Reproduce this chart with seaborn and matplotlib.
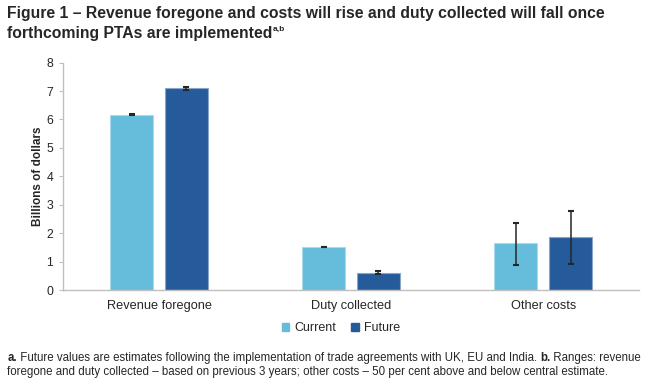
import numpy as np
import pandas as pd
import matplotlib.pyplot as plt
import seaborn as sns

# Valores (bilhões de dólares)
categorias = ['Revenue foregone', 'Duty collected', 'Other costs']
series = ['Current', 'Future']
atual = [6.16, 1.52, 1.65]
futuro = [7.09, 0.61, 1.86]
atual_min = [6.14, 1.51, 0.87]
atual_max = [6.18, 1.53, 2.37]
futuro_min = [7.04, 0.56, 0.93]
futuro_max = [7.14, 0.66, 2.78]
y_ticks = [0, 1, 2, 3, 4, 5, 6, 7, 8]

cores = ['#66bddb', '#265b9b']
bordas = ['#a6dcef', '#8aa6cc']

df = pd.DataFrame({
    'Categoria': categorias * 2,
    'Serie': [series[0]] * 3 + [series[1]] * 3,
    'Valor': atual + futuro,
})
limites = {series[0]: (atual_min, atual_max), series[1]: (futuro_min, futuro_max)}

sns.set_style('white')
plt.rcParams['font.family'] = ['Liberation Sans', 'DejaVu Sans']

fig = plt.figure(figsize=(6.49, 3.91), dpi=100)
ax = fig.add_axes([0.097, 0.258, 0.888, 0.582])

sns.barplot(data=df, x='Categoria', y='Valor', hue='Serie', hue_order=series,
            order=categorias, palette=cores, saturation=1, width=0.57, gap=0.214,
            errorbar=None, ax=ax)

# barras de erro a partir das próprias barras
for cont, serie, borda in zip(ax.containers, series, bordas):
    baixo, alto = limites[serie]
    for barra, lo, hi in zip(cont, baixo, alto):
        barra.set_edgecolor(borda)
        barra.set_linewidth(0.8)
        xc = barra.get_x() + barra.get_width() / 2
        h = barra.get_height()
        ax.errorbar(xc, h, yerr=[[h - lo], [hi - h]], fmt='none',
                    ecolor='#262626', elinewidth=1.1, capsize=2.5, capthick=1.5)

ax.set_ylim(0, 8)
ax.set_xlim(-0.5, 2.5)
ax.set_yticks(y_ticks)
ax.set_xlabel('')
ax.set_ylabel('Billions of dollars', fontsize=8.5, fontweight='bold', labelpad=2)
ax.tick_params(axis='y', labelsize=8.8, length=3, color='#bfbfbf', left=True, pad=4)
ax.tick_params(axis='x', labelsize=9.2, length=0, pad=7)
for lado in ['top', 'right']:
    ax.spines[lado].set_visible(False)
for lado in ['left', 'bottom']:
    ax.spines[lado].set_color('#bfbfbf')
    ax.spines[lado].set_linewidth(1)

ax.legend_.remove()
handles = [plt.Rectangle((0, 0), 1, 1, color=c) for c in cores]
fig.legend(handles, series, loc='center', bbox_to_anchor=(0.525, 0.161), ncol=2,
           frameon=False, fontsize=9, handlelength=0.6, handleheight=0.6,
           handletextpad=0.4, columnspacing=1.2)

# Título
t1 = fig.text(0.011, 0.965, 'Figure 1 \u2013 Revenue foregone and costs will rise and duty collected will fall once',
              fontsize=11.3, fontweight='bold', va='center')
t2 = fig.text(0.011, 0.915, 'forthcoming PTAs are implemented', fontsize=11.3,
              fontweight='bold', va='center')
ax.annotate('a,b', xy=(1, 0.75), xycoords=t2, fontsize=6, fontweight='bold',
            va='center', ha='left')

# Notas de rodapé
n1 = fig.text(0.011, 0.085, 'a.', fontsize=8.3, fontweight='bold', va='center')
n2 = ax.annotate(' Future values are estimates following the implementation of trade agreements with UK, EU and India. ',
                 xy=(1, 0), xycoords=n1, fontsize=8.3, va='bottom', ha='left')
n3 = ax.annotate('b.', xy=(1, 0), xycoords=n2, fontsize=8.3, fontweight='bold', va='bottom', ha='left')
ax.annotate(' Ranges: revenue', xy=(1, 0), xycoords=n3, fontsize=8.3, va='bottom', ha='left')
fig.text(0.011, 0.048, 'foregone and duty collected \u2013 based on previous 3 years; other costs \u2013 50 per cent above and below central estimate.',
         fontsize=8.3, va='center')

fig.savefig('out.png', dpi=100)
